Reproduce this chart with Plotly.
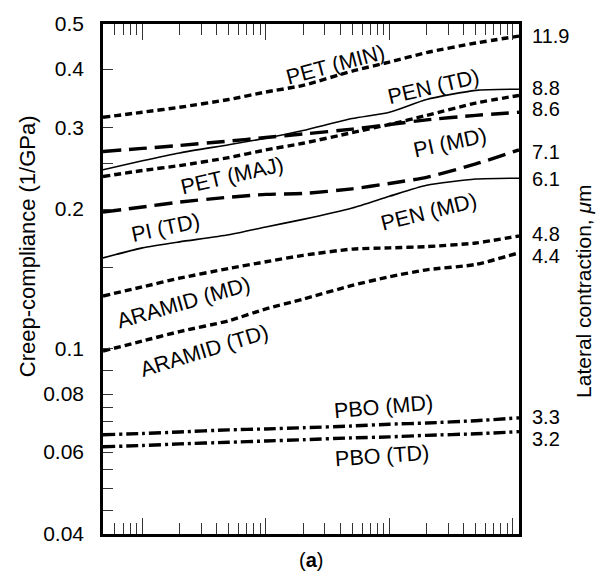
import math
import plotly.graph_objects as go

# ---------------- data ----------------
time_x = [0.48, 1, 2, 5, 10, 20, 50, 100, 200, 500, 1120]

pet_min = [0.315, 0.323, 0.331, 0.344, 0.357, 0.369, 0.396, 0.414, 0.434, 0.455, 0.471]
pen_td = [0.243, 0.254, 0.264, 0.275, 0.284, 0.295, 0.313, 0.323, 0.344, 0.360, 0.362]
pet_maj = [0.235, 0.242, 0.248, 0.258, 0.268, 0.277, 0.292, 0.304, 0.318, 0.338, 0.351]
pi_md = [0.266, 0.270, 0.274, 0.280, 0.285, 0.290, 0.297, 0.304, 0.311, 0.318, 0.323]
pi_td = [0.197, 0.202, 0.207, 0.212, 0.215, 0.216, 0.221, 0.227, 0.234, 0.250, 0.268]
pen_md = [0.157, 0.165, 0.170, 0.176, 0.183, 0.190, 0.201, 0.213, 0.225, 0.232, 0.233]
aramid_md = [0.130, 0.136, 0.142, 0.149, 0.154, 0.159, 0.164, 0.165, 0.166, 0.169, 0.175]
aramid_td = [0.099, 0.104, 0.109, 0.115, 0.122, 0.128, 0.137, 0.143, 0.148, 0.152, 0.161]
pbo_md = [0.0654, 0.0658, 0.0663, 0.0670, 0.0673, 0.0677, 0.0683, 0.0689, 0.0693, 0.0701, 0.0711]
pbo_td = [0.0616, 0.0620, 0.0625, 0.0630, 0.0634, 0.0638, 0.0644, 0.0647, 0.0652, 0.0657, 0.0664]

y_tick_vals = [0.04, 0.06, 0.08, 0.1, 0.2, 0.3, 0.4, 0.5]
y_tick_text = ["0.04", "0.06", "0.08", "0.1", "0.2", "0.3", "0.4", "0.5"]
y_minor_vals = [0.045, 0.05, 0.055, 0.07, 0.075, 0.09, 0.15, 0.25]

x_major_vals = [1, 10, 100, 1000]
x_minor_vals = [0.6, 0.7, 0.8, 0.9] + [m * d for d in (1, 10, 100) for m in range(2, 10)]

lateral_text = ["11.9", "8.8", "8.6", "7.1", "6.1", "4.8", "4.4", "3.3", "3.2"]
lateral_level = [0.471, 0.364, 0.328, 0.265, 0.232, 0.1765, 0.1585, 0.0714, 0.0640]

curve_names = ["PET (MIN)", "PEN (TD)", "PET (MAJ)", "PI (MD)", "PI (TD)",
               "PEN (MD)", "ARAMID (MD)", "ARAMID (TD)", "PBO (MD)", "PBO (TD)"]

# ---------------- styles ----------------
SHORT = "7px,4px"
LONG = "18px,8px"
DASHDOT = "12px,4px,3px,4px"
series = [
    (pet_min, SHORT, 3.4),
    (pen_td, "solid", 1.6),
    (pet_maj, SHORT, 3.4),
    (pi_md, LONG, 3.4),
    (pi_td, LONG, 3.4),
    (pen_md, "solid", 1.6),
    (aramid_md, SHORT, 3.4),
    (aramid_td, SHORT, 3.4),
    (pbo_md, DASHDOT, 3.4),
    (pbo_td, DASHDOT, 3.4),
]

FONT = "Liberation Sans, Arial, sans-serif"
L, R, T, B = 103, 519, 22, 534
W, H = 600, 574


def px_to_paper(px, py):
    return (px - L) / (R - L), (B - py) / (B - T)


fig = go.Figure()
for (vals, dash, w), name in zip(series, curve_names):
    fig.add_trace(go.Scatter(x=time_x, y=vals, mode="lines", name=name,
                             line=dict(color="black", width=w, dash=dash, shape="spline", smoothing=0.6),
                             showlegend=False, hoverinfo="skip"))

# curve labels (pixel centre, angle)
label_pos = [
    (335, 63, -15), (433, 85, -13), (232, 175, -13), (450, 141, -12), (165, 227, -12),
    (429, 211, -14), (183, 302, -16), (204, 350, -17), (383, 407, -5), (382, 456, -4),
]
annotations = []
for name, (px, py, ang) in zip(curve_names, label_pos):
    xp, yp = px_to_paper(px, py)
    annotations.append(dict(text=name, x=xp, y=yp, xref="paper", yref="paper",
                            showarrow=False, textangle=ang, xanchor="center", yanchor="middle",
                            font=dict(family=FONT, size=21.5, color="black")))

for txt, lvl in zip(lateral_text, lateral_level):
    annotations.append(dict(text=txt, x=1, y=math.log10(lvl), xref="paper", yref="y",
                            xanchor="left", yanchor="middle", xshift=11, showarrow=False,
                            font=dict(family=FONT, size=20, color="black")))

xp, yp = px_to_paper(27, 245)
annotations.append(dict(text="Creep-compliance (1/GPa)", x=xp, y=yp, xref="paper", yref="paper",
                        textangle=-90, showarrow=False, xanchor="center", yanchor="middle",
                        font=dict(family=FONT, size=22, color="black")))
xp, yp = px_to_paper(584, 291)
annotations.append(dict(text="Lateral contraction, <i>μ</i>m", x=xp, y=yp, xref="paper", yref="paper",
                        textangle=-90, showarrow=False, xanchor="center", yanchor="middle",
                        font=dict(family=FONT, size=21, color="black")))
xp, yp = px_to_paper(311, 560)
annotations.append(dict(text="(<b>a</b>)", x=xp, y=yp, xref="paper", yref="paper",
                        showarrow=False, xanchor="center", yanchor="middle",
                        font=dict(family=FONT, size=20, color="black")))

fig.update_layout(
    width=W, height=H,
    margin=dict(l=L, r=W - R, t=T, b=H - B, pad=0),
    paper_bgcolor="white", plot_bgcolor="white",
    annotations=annotations,
    xaxis=dict(type="log", range=[math.log10(0.48), math.log10(1120)],
               showgrid=False, zeroline=False, showticklabels=False,
               showline=True, linecolor="black", linewidth=2.5, mirror="allticks",
               ticks="inside", tickmode="array", tickvals=x_major_vals, ticklen=16,
               tickwidth=1.2, tickcolor="#333",
               minor=dict(tickmode="array", tickvals=x_minor_vals, ticks="inside",
                          ticklen=11, tickwidth=1.2, tickcolor="#333", showgrid=False)),
    yaxis=dict(type="log", range=[math.log10(0.04), math.log10(0.5)],
               showgrid=False, zeroline=False,
               showline=True, linecolor="black", linewidth=2.5, mirror=True,
               ticks="inside", tickmode="array", tickvals=y_tick_vals, ticktext=y_tick_text,
               ticklen=10, tickwidth=1.2, tickcolor="#333", ticklabelstandoff=12,
               tickfont=dict(family=FONT, size=21, color="black"),
               minor=dict(tickmode="array", tickvals=y_minor_vals, ticks="inside",
                          ticklen=10, tickwidth=1.2, tickcolor="#333", showgrid=False)),
)

fig.write_html("out.html", config={"displayModeBar": False},
               post_script="document.body.style.margin='0';document.body.style.overflow='hidden';")
